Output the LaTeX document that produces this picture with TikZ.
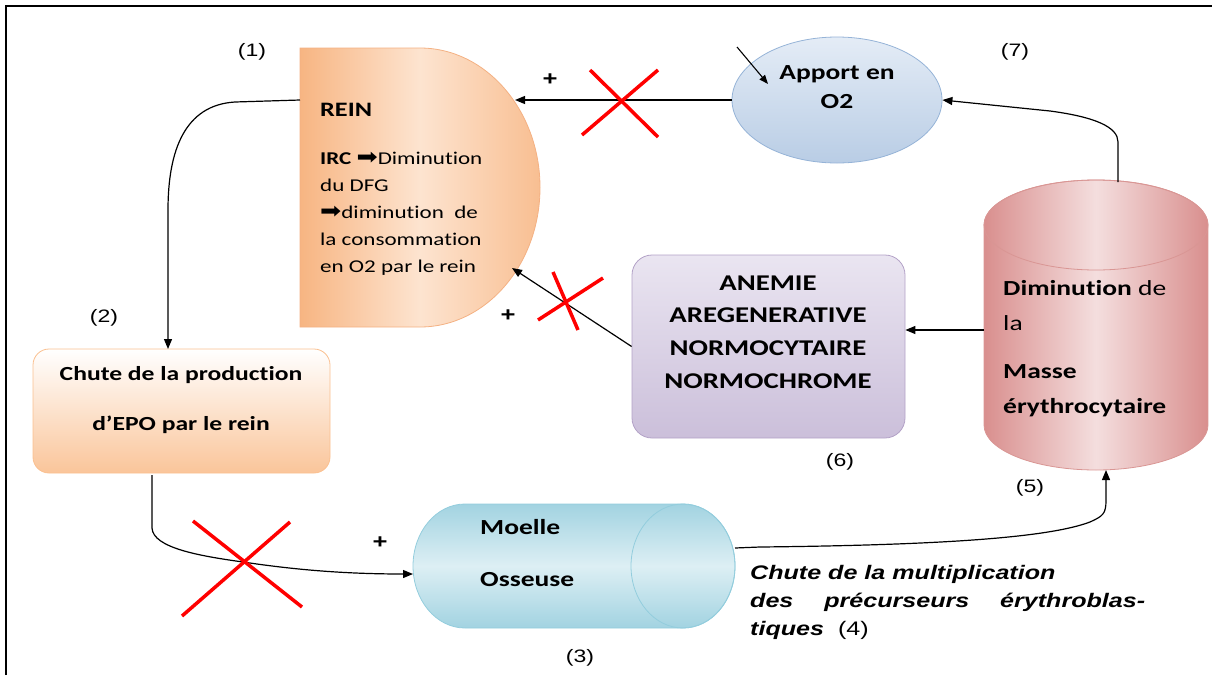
\documentclass[tikz,border=0pt]{standalone}
\usepackage{fontspec}
\setmainfont{Carlito}[FakeStretch=1.28, Ligatures=NoCommon]
\newfontfamily\labelfont{Liberation Sans}[FakeStretch=1.28]
\newfontfamily\symfont{DejaVu Sans}[FakeStretch=1.15]
\usetikzlibrary{shapes.geometric,arrows.meta}

\definecolor{reinDark}{HTML}{F7B582}
\definecolor{reinLight}{HTML}{FDE4D0}
\definecolor{reinLine}{HTML}{F4B183}
\definecolor{oxyTop}{HTML}{E4ECF6}
\definecolor{oxyBot}{HTML}{B9CDE5}
\definecolor{oxyLine}{HTML}{95B3D7}
\definecolor{anemTop}{HTML}{EAE5F1}
\definecolor{anemBot}{HTML}{CBBFDA}
\definecolor{anemLine}{HTML}{B3A2C7}
\definecolor{chuteTop}{HTML}{FFFFFF}
\definecolor{chuteBot}{HTML}{FAC59A}
\definecolor{chuteLine}{HTML}{FAC090}
\definecolor{masseDark}{HTML}{D98F8E}
\definecolor{masseLight}{HTML}{F4DEDE}
\definecolor{masseLine}{HTML}{D99694}
\definecolor{moelleDark}{HTML}{A2D3E1}
\definecolor{moelleLight}{HTML}{DDEFF4}
\definecolor{moelleLine}{HTML}{93CDDD}

\newcommand{\thickarrow}{{\symfont\fontsize{22}{27}\selectfont ➡}}

\begin{document}
\begin{tikzpicture}[x=1pt,y=-1pt,
  conn/.style={line width=1.2pt, -{Triangle[length=10pt,width=8pt]}},
  cross/.style={red, line width=3.5pt},
  num/.style={font=\labelfont\fontsize{18}{20}\selectfont, inner sep=0pt},
  plus/.style={font=\labelfont\bfseries\fontsize{20}{20}\selectfont, inner sep=0pt},
  boldtext/.style={font=\bfseries\fontsize{21.5}{29}\selectfont, inner sep=0pt},
  bodytext/.style={font=\fontsize{18}{27}\selectfont, inner sep=0pt},
  italtext/.style={font=\labelfont\bfseries\itshape\fontsize{19.6}{28}\selectfont, inner sep=0pt}
]
\useasboundingbox (0,0) rectangle (1212,675);

% outer frame
\draw[line width=1.8pt] (6,675) -- (6,6) -- (1212,6);

% ---- REIN : half-rounded block
\path[left color=reinDark, right color=reinDark!80!reinLight, middle color=reinLight, draw=reinLine, line width=0.8pt]
  (300,48) -- (420,48)
  .. controls (486,48) and (540,110.5) .. (540,187.5)
  .. controls (540,264.5) and (486,327) .. (420,327)
  -- (300,327) -- cycle;
\coordinate (reinTop) at (515,100);
\coordinate (reinLow) at (512,268);
\coordinate (reinLeft) at (300,100);
\node[boldtext, font=\bfseries\fontsize{20.5}{24}\selectfont, anchor=west] (reinTitle) at (320,110) {REIN};
\node[bodytext, anchor=west, align=left] (reinBody) at (320,214)
  {\textbf{IRC} \thickarrow Diminution\\du DFG\\\thickarrow diminution\ \ de\\la consommation\\en O2 par le rein};

% ---- Apport en O2
\node[ellipse, minimum width=210pt, minimum height=126pt, top color=oxyTop, bottom color=oxyBot,
      draw=oxyLine, line width=0.8pt] (o2) at (837,100) {};
\node[boldtext, align=center] (o2text) at (837,87) {Apport en\\O2};
\coordinate (o2in) at (737,47);
\coordinate (o2tip) at (768,84);
\draw[line width=1.1pt, -{Triangle[length=9pt,width=7pt]}] (o2in) -- (o2tip);

% ---- Masse erythrocytaire (vertical cylinder)
\path[left color=masseDark, right color=masseDark, middle color=masseLight, draw=masseLine, line width=0.8pt]
  (984,225) -- (984,425)
  .. controls (984,450) and (1034,470) .. (1096,470)
  .. controls (1158,470) and (1208,450) .. (1208,425)
  -- (1208,225)
  .. controls (1208,200) and (1158,180) .. (1096,180)
  .. controls (1034,180) and (984,200) .. (984,225) -- cycle;
\draw[masseLine, line width=0.8pt] (1096,225) ellipse [x radius=112, y radius=45];
\coordinate (masseTop) at (1118,182);
\coordinate (masseLeft) at (984,330);
\coordinate (masseBot) at (1106,470);
\node[anchor=west, align=left, font=\fontsize{21.5}{35}\selectfont, inner sep=0pt] (masseText) at (1003,349)
  {\textbf{Diminution} de\\la\\[13pt]\textbf{Masse}\\\textbf{érythrocytaire}};

% ---- Anemie
\node[rectangle, rounded corners=20pt, minimum width=273pt, minimum height=183pt,
      top color=anemTop, bottom color=anemBot, draw=anemLine, line width=0.8pt] (anemie) at (768.5,346.5) {};
\node[boldtext, font=\bfseries\fontsize{22.5}{32.7}\selectfont, align=center] (anemieText) at (768,332)
  {ANEMIE\\AREGENERATIVE\\NORMOCYTAIRE\\NORMOCHROME};

% ---- Chute de la production d'EPO
\node[rectangle, rounded corners=16pt, minimum width=297pt, minimum height=124pt,
      top color=chuteTop, bottom color=chuteBot, draw=chuteLine, line width=0.8pt] (chute) at (181.5,411) {};
\node[boldtext, font=\bfseries\fontsize{20}{50}\selectfont, align=center] (chuteText) at (181,400)
  {Chute de la production\\d’EPO par le rein};
\coordinate (chuteTop) at (168,349);
\coordinate (chuteBot) at (152,475);

% ---- Moelle osseuse (horizontal cylinder)
\path[top color=moelleDark, bottom color=moelleDark, middle color=moelleLight, draw=moelleLine, line width=0.8pt]
  (683,504) -- (465,504)
  .. controls (436,504) and (413,532) .. (413,566)
  .. controls (413,600) and (436,628) .. (465,628)
  -- (683,628)
  .. controls (712,628) and (735,600) .. (735,566)
  .. controls (735,532) and (712,504) .. (683,504) -- cycle;
\draw[moelleLine, line width=0.8pt] (683,566) ellipse [x radius=52, y radius=62];
\coordinate (moelleLeft) at (413,574);
\coordinate (moelleRight) at (735,548);
\node[anchor=west, align=left, font=\bfseries\fontsize{21.5}{52}\selectfont, inner sep=0pt] (moelleText) at (480,553)
  {Moelle\\Osseuse};

% ---- connectors
\draw[conn] (o2.west) -- (reinTop);
\draw[conn] (masseTop) -- (1118,142) .. controls (1118,127) and (1095,117) .. (1050,111) -- (o2.east);
\draw[conn] (masseLeft) -- (masseLeft -| anemie.east);
\draw[conn] (anemie.west) -- (reinLow);
\draw[conn] (reinLeft) -- (235,102) .. controls (185,105) and (168,150) .. (168,210) -- (chuteTop);
\draw[conn] (chuteBot) -- (152,528) .. controls (153,548) and (200,556) .. (243,562)
  .. controls (290,569) and (340,574) .. (moelleLeft);
\draw[conn] (moelleRight) -- (760,547) .. controls (950,545) and (1050,537) .. (1090,522)
  .. controls (1103,516) and (1106,514) .. (1106,500) -- (masseBot);

% ---- blocked links
\draw[cross] (582,135) -- (658,70);
\draw[cross] (590,70) -- (658,137);
\draw[cross] (553,272) -- (578,330);
\draw[cross] (538,320) -- (603,278);
\draw[cross] (193,521) -- (302,607);
\draw[cross] (290,522) -- (182,616);

% ---- signs and step numbers
\node[plus] (p1) at (550,80) {+};
\node[plus] (p2) at (508,316) {+};
\node[plus] (p3) at (380,543) {+};
\node[num] (n1) at (252,52) {(1)};
\node[num] (n2) at (104,318) {(2)};
\node[num] (n3) at (580,658) {(3)};
\node[num] (n5) at (1030,488) {(5)};
\node[num] (n6) at (840,462) {(6)};
\node[num] (n7) at (1015,52) {(7)};

% ---- caption of step 4
\node[italtext, anchor=west, align=left] (step4) at (750,602)
  {Chute de la multiplication\\
   \makebox[395pt][s]{des précurseurs érythroblas-}\\
   tiques\ \ {\upshape\mdseries (4)}};
\end{tikzpicture}
\end{document}
